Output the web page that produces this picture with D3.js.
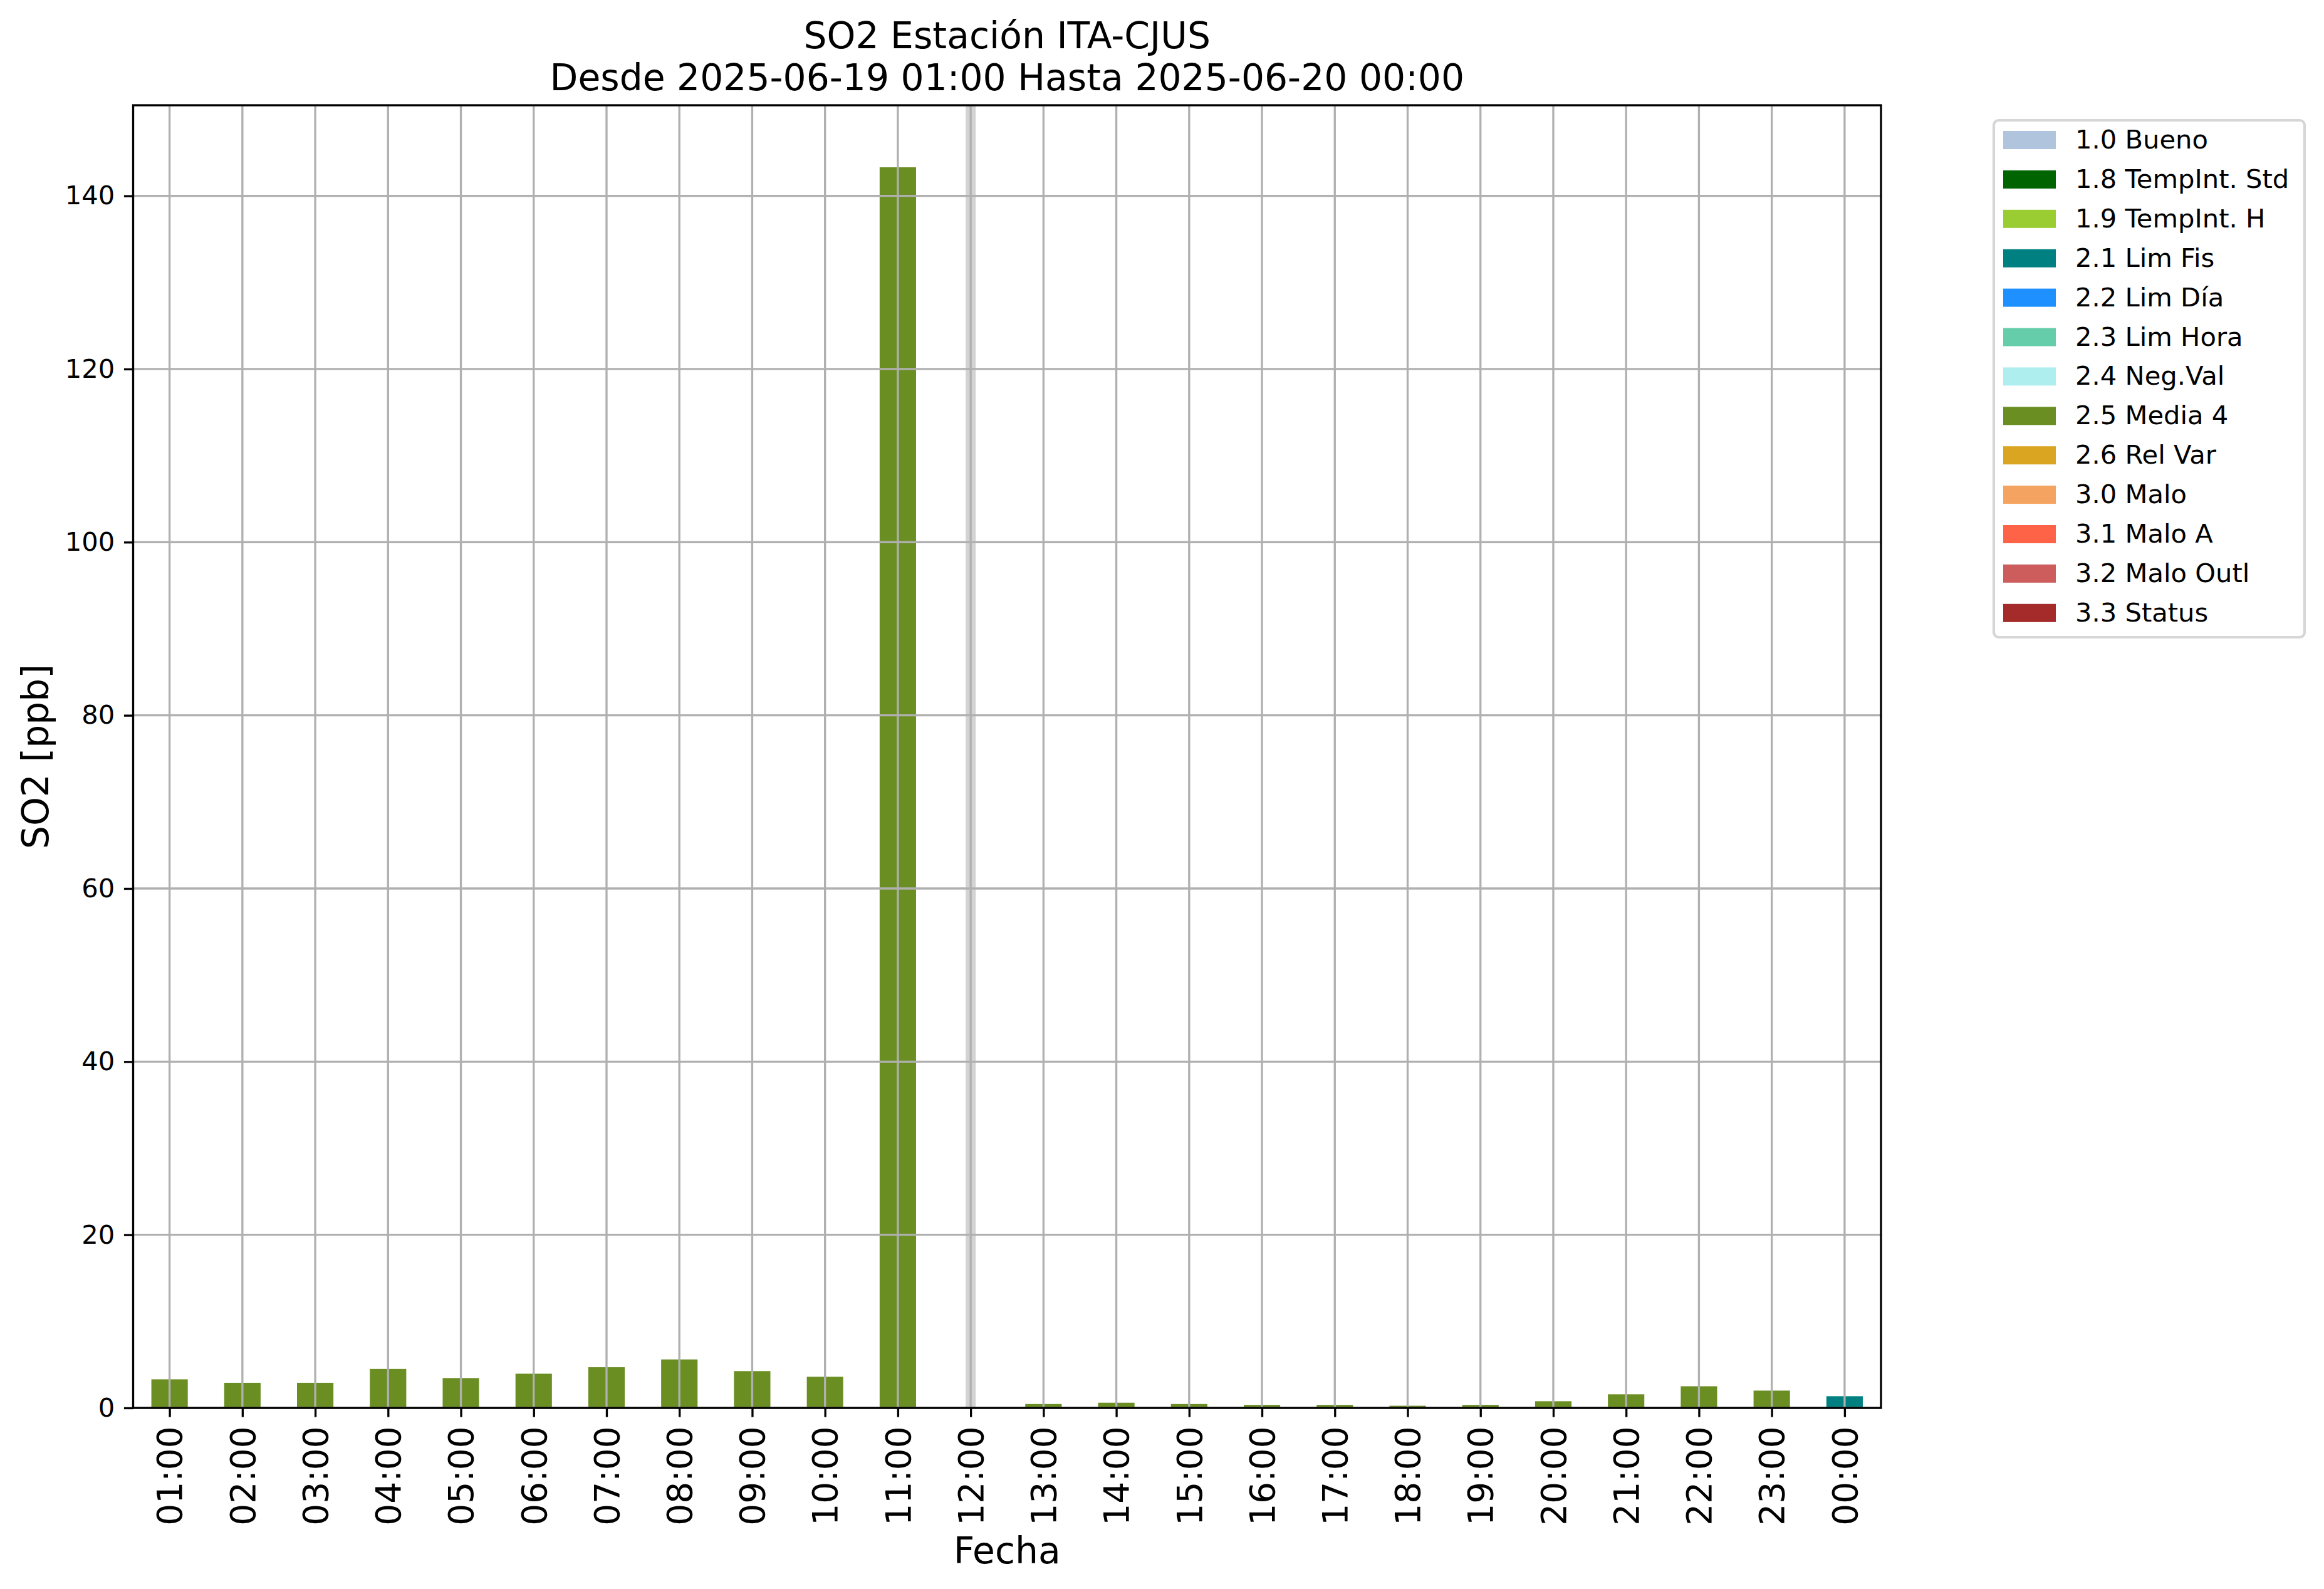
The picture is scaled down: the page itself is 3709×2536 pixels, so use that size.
<!DOCTYPE html>
<html>
<head>
<meta charset="utf-8">
<script src="https://cdn.jsdelivr.net/npm/d3@7"></script>
<style>
  html, body { margin: 0; padding: 0; background: #ffffff; }
  svg { display: block; font-family: "DejaVu Sans", sans-serif; }
</style>
</head>
<body>
<svg id="chart" width="3709" height="2536"></svg>
<script>
// ---------------- DATA ----------------
const hours = ["01:00","02:00","03:00","04:00","05:00","06:00","07:00","08:00","09:00","10:00","11:00","12:00",
               "13:00","14:00","15:00","16:00","17:00","18:00","19:00","20:00","21:00","22:00","23:00","00:00"];
const values = [3.3, 2.9, 2.9, 4.5, 3.45, 3.95, 4.7, 5.6, 4.25, 3.6, 143.3, null,
                0.45, 0.6, 0.45, 0.35, 0.35, 0.25, 0.35, 0.77, 1.57, 2.5, 2.0, 1.35];
const flags = ["2.5","2.5","2.5","2.5","2.5","2.5","2.5","2.5","2.5","2.5","2.5",null,
               "2.5","2.5","2.5","2.5","2.5","2.5","2.5","2.5","2.5","2.5","2.5","2.1"];
const missingHours = ["12:00"];
const yTicks = [0, 20, 40, 60, 80, 100, 120, 140];
const legendCodes = ["1.0","1.8","1.9","2.1","2.2","2.3","2.4","2.5","2.6","3.0","3.1","3.2","3.3"];
const legendLabels = ["1.0 Bueno","1.8 TempInt. Std","1.9 TempInt. H","2.1 Lim Fis","2.2 Lim Día","2.3 Lim Hora",
                      "2.4 Neg.Val","2.5 Media 4","2.6 Rel Var","3.0 Malo","3.1 Malo A","3.2 Malo Outl","3.3 Status"];
const legendColors = ["#b0c4de","#006400","#9acd32","#008080","#1e90ff","#66cdaa",
                      "#afeeee","#6b8e23","#daa520","#f4a460","#ff6347","#cd5c5c","#a52a2a"];
const titleLines = ["SO2 Estación ITA-CJUS", "Desde 2025-06-19 01:00 Hasta 2025-06-20 00:00"];
const xLabel = "Fecha";
const yLabel = "SO2 [ppb]";

// ---------------- LAYOUT ----------------
const L = 212.5, R = 3002, T = 168, B = 2247;
const PT = 300 / 72;
const svg = d3.select("#chart");

const colorOf = d3.scaleOrdinal().domain(legendCodes).range(legendColors);

const xIdx = d3.scaleLinear().domain([-0.5, hours.length - 0.5]).range([L, R]);
const x = d3.scaleBand().domain(hours).range([L, R]).paddingInner(0.5).paddingOuter(0.25);
const yMax = d3.max(values) * 1.05;
const y = d3.scaleLinear().domain([0, yMax]).range([B, T]);
const xc = h => xIdx(hours.indexOf(h));

// missing-data band
svg.append("g").selectAll("line").data(missingHours).join("line")
  .attr("x1", d => xc(d)).attr("x2", d => xc(d))
  .attr("y1", T).attr("y2", B)
  .attr("stroke", "#d3d3d3").attr("stroke-width", 16);

// bars
const barData = hours.map((h, i) => ({h, v: values[i], f: flags[i]})).filter(d => d.v != null);
svg.append("g").selectAll("rect").data(barData).join("rect")
  .attr("x", d => x(d.h))
  .attr("width", x.bandwidth())
  .attr("y", d => y(d.v))
  .attr("height", d => y(0) - y(d.v))
  .attr("fill", d => colorOf(d.f));

// grid
const grid = svg.append("g").attr("stroke", "#b0b0b0").attr("stroke-width", 0.8 * PT);
grid.selectAll(".vg").data(hours).join("line").attr("class", "vg")
  .attr("x1", d => xc(d)).attr("x2", d => xc(d)).attr("y1", T).attr("y2", B);
grid.selectAll(".hg").data(yTicks).join("line").attr("class", "hg")
  .attr("x1", L).attr("x2", R).attr("y1", d => y(d)).attr("y2", d => y(d));

// axes
const tickLen = 3.5 * PT, tickPad = 3.5 * PT;
const xAxis = d3.axisBottom(d3.scalePoint().domain(hours).range([xIdx(0), xIdx(hours.length - 1)]))
  .tickSize(tickLen).tickPadding(tickPad);
const gx = svg.append("g").attr("transform", `translate(0,${B})`).call(xAxis);
gx.select(".domain").remove();
gx.selectAll(".tick line").attr("stroke", "#000").attr("stroke-width", 0.8 * PT);
gx.selectAll(".tick text")
  .attr("font-size", 55).attr("font-family", "DejaVu Sans").attr("fill", "#000")
  .attr("transform", "rotate(-90)")
  .attr("x", -(tickLen + tickPad)).attr("y", 0).attr("dy", "0.35em")
  .attr("text-anchor", "end");

const yAxis = d3.axisLeft(y).tickValues(yTicks).tickFormat(d3.format("d")).tickSize(tickLen).tickPadding(tickPad);
const gy = svg.append("g").attr("transform", `translate(${L},0)`).call(yAxis);
gy.select(".domain").remove();
gy.selectAll(".tick line").attr("stroke", "#000").attr("stroke-width", 0.8 * PT);
gy.selectAll(".tick text").attr("font-size", 10 * PT).attr("font-family", "DejaVu Sans").attr("fill", "#000");

// spines
svg.append("rect").attr("x", L).attr("y", T).attr("width", R - L).attr("height", B - T)
  .attr("fill", "none").attr("stroke", "#000").attr("stroke-width", 0.8 * PT);

// title
svg.append("g").selectAll("text").data(titleLines).join("text")
  .attr("x", (L + R) / 2).attr("y", (d, i) => 77 + i * 66.5)
  .attr("text-anchor", "middle").attr("font-size", 14 * PT).attr("fill", "#000")
  .text(d => d);

// axis labels
svg.append("text").attr("x", (L + R) / 2).attr("y", 2495)
  .attr("text-anchor", "middle").attr("font-size", 14 * PT).text(xLabel);
svg.append("text").attr("transform", `translate(77,${(T + B) / 2}) rotate(-90)`)
  .attr("text-anchor", "middle").attr("font-size", 14 * PT).text(yLabel);

// legend
const lg = svg.append("g");
const lgX = 3182, lgY = 192, lgW = 496, lgH = 825, rowH = 62.9;
lg.append("rect").attr("x", lgX).attr("y", lgY).attr("width", lgW).attr("height", lgH)
  .attr("rx", 8).attr("ry", 8)
  .attr("fill", "#ffffff").attr("fill-opacity", 0.8)
  .attr("stroke", "#d6d6d6").attr("stroke-width", 1 * PT);
const rows = lg.selectAll(".row").data(legendLabels).join("g").attr("class", "row")
  .attr("transform", (d, i) => `translate(0,${i * rowH})`);
rows.append("rect").attr("x", 3197).attr("y", 209).attr("width", 84).attr("height", 29)
  .attr("fill", (d, i) => legendColors[i]);
rows.append("text").attr("x", 3312).attr("y", 237)
  .attr("font-size", 10 * PT).attr("fill", "#000").text(d => d);
</script>
</body>
</html>
